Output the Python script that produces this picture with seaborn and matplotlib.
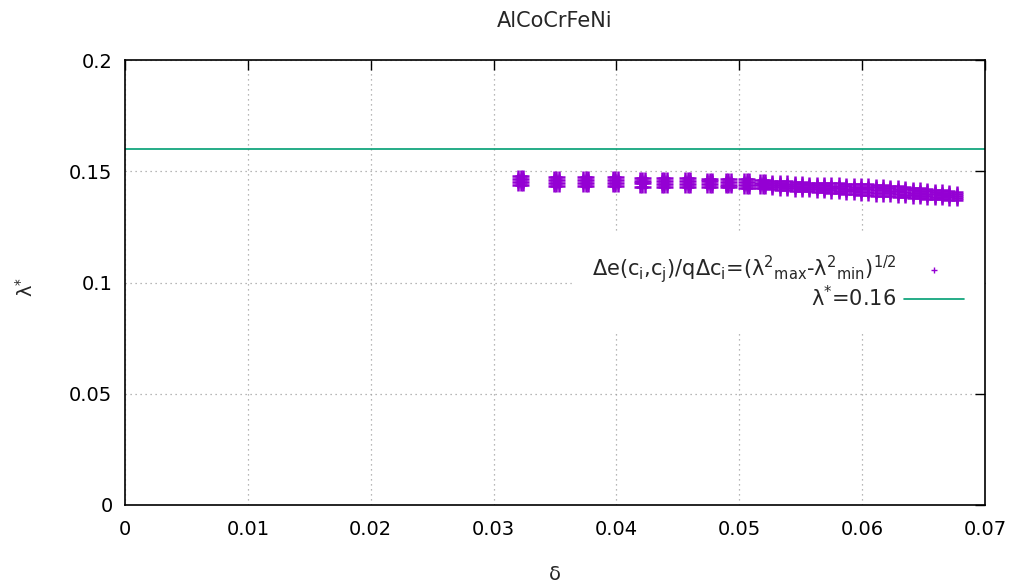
import matplotlib
matplotlib.use("Agg")
import matplotlib.pyplot as plt
import seaborn as sns
import pandas as pd

# ---- data ----
title = "AlCoCrFeNi"
x_ticks = [0, 0.01, 0.02, 0.03, 0.04, 0.05, 0.06, 0.07]
x_tick_labels = ["0", "0.01", "0.02", "0.03", "0.04", "0.05", "0.06", "0.07"]
y_ticks = [0, 0.05, 0.1, 0.15, 0.2]
y_tick_labels = ["0", "0.05", "0.1", "0.15", "0.2"]
lambda_star = 0.16

# isolated clusters (three delta values each, four lambda levels)
cluster_deltas = [
    [0.0320, 0.0322, 0.0324], [0.0349, 0.0351, 0.0353], [0.0373, 0.0375, 0.0377],
    [0.0397, 0.0399, 0.0401], [0.0419, 0.0421, 0.0423], [0.0437, 0.0439, 0.0441],
    [0.0456, 0.0458, 0.0460], [0.0474, 0.0476, 0.0478], [0.0489, 0.0491, 0.0493],
    [0.0504, 0.0506, 0.0508], [0.0517, 0.0519, 0.0521],
]
cluster_lambdas = [
    [0.1477, 0.1464, 0.1451, 0.1437],
    [0.1475, 0.1462, 0.1449, 0.1435],
    [0.1474, 0.1461, 0.1448, 0.1434],
    [0.1473, 0.1460, 0.1447, 0.1433],
    [0.1471, 0.1458, 0.1445, 0.1431],
    [0.1470, 0.1457, 0.1444, 0.1430],
    [0.1469, 0.1456, 0.1443, 0.1429],
    [0.1467, 0.1454, 0.1441, 0.1428],
    [0.1465, 0.1452, 0.1440, 0.1427],
    [0.1463, 0.1451, 0.1439, 0.1426],
    [0.1461, 0.1449, 0.1437, 0.1424],
]

# dense band
band_deltas = [
    0.0527, 0.0533, 0.0539, 0.0545, 0.0551, 0.0557, 0.0563, 0.0569, 0.0575,
    0.0581, 0.0587, 0.0593, 0.0599, 0.0605, 0.0611, 0.0617, 0.0623, 0.0629,
    0.0635, 0.0641, 0.0647, 0.0653, 0.0659, 0.0665, 0.0671, 0.0677,
]
band_lambdas = [
    [0.1456, 0.1446, 0.1437, 0.1428, 0.1418],
    [0.1455, 0.1445, 0.1436, 0.1427, 0.1417],
    [0.1454, 0.1444, 0.1435, 0.1425, 0.1415],
    [0.1453, 0.1442, 0.1433, 0.1423, 0.1413],
    [0.1451, 0.1441, 0.1431, 0.1422, 0.1411],
    [0.1449, 0.1439, 0.1429, 0.1420, 0.1409],
    [0.1448, 0.1437, 0.1428, 0.1418, 0.1407],
    [0.1447, 0.1436, 0.1426, 0.1416, 0.1405],
    [0.1446, 0.1435, 0.1425, 0.1414, 0.1403],
    [0.1445, 0.1434, 0.1423, 0.1413, 0.1401],
    [0.1444, 0.1432, 0.1422, 0.1411, 0.1399],
    [0.1443, 0.1431, 0.1420, 0.1409, 0.1397],
    [0.1442, 0.1430, 0.1419, 0.1407, 0.1395],
    [0.1441, 0.1429, 0.1418, 0.1406, 0.1393],
    [0.1440, 0.1428, 0.1416, 0.1404, 0.1391],
    [0.1438, 0.1426, 0.1414, 0.1402, 0.1389],
    [0.1435, 0.1423, 0.1412, 0.1400, 0.1387],
    [0.1432, 0.1421, 0.1409, 0.1398, 0.1385],
    [0.1429, 0.1418, 0.1407, 0.1395, 0.1383],
    [0.1426, 0.1415, 0.1404, 0.1393, 0.1381],
    [0.1423, 0.1412, 0.1401, 0.1391, 0.1379],
    [0.1420, 0.1409, 0.1399, 0.1388, 0.1377],
    [0.1417, 0.1406, 0.1396, 0.1386, 0.1375],
    [0.1414, 0.1403, 0.1394, 0.1384, 0.1374],
    [0.1410, 0.1400, 0.1392, 0.1383, 0.1373],
    [0.1406, 0.1397, 0.1390, 0.1382, 0.1373],
]

# ---- build the table ----
rows = []
for ds, ls in zip(cluster_deltas, cluster_lambdas):
    for d in ds:
        for l in ls:
            rows.append((d, l))
for d, ls in zip(band_deltas, band_lambdas):
    for l in ls:
        rows.append((d, l))
df = pd.DataFrame(rows, columns=["delta", "lam"])

sns.set_style("white")
plt.rcParams["font.family"] = ["DejaVu Sans"]
plt.rcParams["mathtext.fontset"] = "dejavusans"
plt.rcParams["mathtext.default"] = "regular"

FS = 14

fig = plt.figure(figsize=(10.19, 5.88), dpi=100)
ax = fig.add_axes([125 / 1019, 83 / 588, 860 / 1019, 445 / 588])

label1 = ("Δe(c$_{i}$,c$_{j}$)/qΔc$_{i}$="
          "(λ$^{2}$${}_{max}$-λ$^{2}$${}_{min}$)$^{1/2}$")
sns.scatterplot(data=df, x="delta", y="lam", marker="+", color="#9400d3",
                s=65, linewidth=1.8, ax=ax, label=label1, zorder=3)
ax.axhline(lambda_star, color="#009e73", lw=1.2, label="λ$^{*}$=0.16", zorder=2)

ax.set_xlim(0, 0.07)
ax.set_ylim(0, 0.2)
ax.set_xticks(x_ticks)
ax.set_xticklabels(x_tick_labels)
ax.set_yticks(y_ticks)
ax.set_yticklabels(y_tick_labels)
ax.tick_params(direction="in", length=7, width=1, top=True, right=True,
               labelsize=FS, colors="black")
ax.tick_params(axis="x", pad=11)
ax.tick_params(axis="y", pad=9)
for s in ax.spines.values():
    s.set_color("black")
    s.set_linewidth(1.2)
ax.grid(True, color="#a0a0a0", linestyle=(0, (1, 3)), linewidth=0.9)
ax.set_axisbelow(True)

ax.set_title(title, fontsize=FS + 1, pad=24)
ax.set_xlabel("δ", fontsize=FS)
ax.set_ylabel("λ$^{*}$", fontsize=FS)
ax.xaxis.set_label_coords(0.5, -0.135)
ax.yaxis.set_label_coords(-0.103, 0.49)

leg = ax.legend(loc="upper right", bbox_to_anchor=(0.999, 0.61), markerfirst=False,
                frameon=True, fancybox=False, framealpha=1, facecolor="white",
                edgecolor="white", fontsize=FS + 1, handlelength=2.9, handletextpad=0.35,
                borderpad=0.95, borderaxespad=0.0, labelspacing=0.0, markerscale=0.45)
leg.set_zorder(2.4)
for h in leg.legend_handles:
    if hasattr(h, "set_linewidth"):
        pass
leg.legend_handles[0].set_linewidth(1.0)

fig.savefig("out.png", dpi=100)
